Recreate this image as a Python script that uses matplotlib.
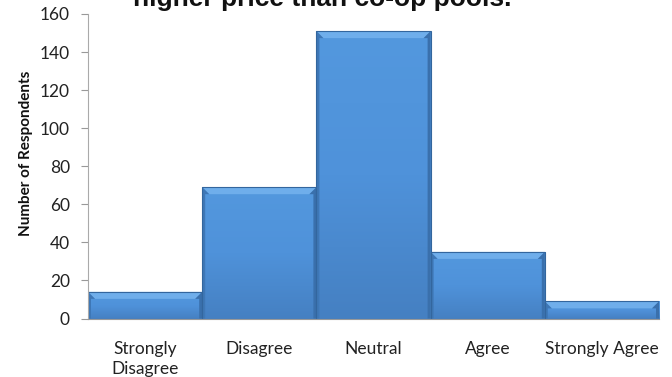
import matplotlib
matplotlib.use("Agg")
import matplotlib.pyplot as plt
from matplotlib.patches import Rectangle, Polygon
import numpy as np

categories = ["Strongly\nDisagree", "Disagree", "Neutral", "Agree", "Strongly Agree"]
respondents = [14, 69, 151, 35, 9]
y_ticks = [0, 20, 40, 60, 80, 100, 120, 140, 160]
title_text = "higher price than co-op pools."
y_label = "Number of Respondents"

W, H = 672, 377
fig = plt.figure(figsize=(W / 100, H / 100), dpi=100)
left, right, bottom, top = 88, 659, 318.5, 14
ax = fig.add_axes([left / W, 1 - bottom / H, (right - left) / W, (bottom - top) / H])

ax.set_xlim(-0.5, len(categories) - 0.5)
ax.set_ylim(0, 160)

# pixel -> data conversion factors
px_x = (len(categories)) / (right - left)
px_y = 160 / (bottom - top)

face = "#4C8ED6"
edge = "#33669E"
grad = np.linspace(0, 1, 256).reshape(-1, 1)
cmap = matplotlib.colors.LinearSegmentedColormap.from_list(
    "barfill", ["#4580C2", "#4F92DA", "#5398DE"])

for i, v in enumerate(respondents):
    x0, x1 = i - 0.5, i + 0.5
    rect = Rectangle((x0, 0), 1.0, v, facecolor=face, edgecolor="none", zorder=2)
    ax.add_patch(rect)
    im = ax.imshow(grad, extent=(x0, x1, 0, v), origin="lower", cmap=cmap,
                   aspect="auto", zorder=2.1)
    im.set_clip_path(rect)
    b = 7  # bevel size in pixels
    bx, by = b * px_x, b * px_y
    sx = 3 * px_x
    # top bevel (lighter)
    ax.add_patch(Polygon([(x0, v), (x1, v), (x1 - bx, v - by), (x0 + bx, v - by)],
                         closed=True, facecolor="#6FAEEB", edgecolor="none", zorder=2.2))
    # side bevels (darker)
    ax.add_patch(Polygon([(x0, v), (x0 + bx, v - by), (x0 + sx, v - by), (x0 + sx, 0), (x0, 0)],
                         closed=True, facecolor="#3E77B6", edgecolor="none", zorder=2.2))
    ax.add_patch(Polygon([(x1, v), (x1 - bx, v - by), (x1 - sx, v - by), (x1 - sx, 0), (x1, 0)],
                         closed=True, facecolor="#3A70AC", edgecolor="none", zorder=2.2))
    ax.add_patch(Rectangle((x0, 0), 1.0, v, facecolor="none", edgecolor=edge,
                           linewidth=0.8, zorder=2.3))

ax.set_yticks(y_ticks)
ax.set_yticklabels([str(t) for t in y_ticks], fontsize=12.5, family="Lato", color="#222222")
ax.set_xticks(range(len(categories)))
ax.set_xticklabels(categories, fontsize=12.5, family="Lato", color="#222222", linespacing=1.3)
ax.tick_params(axis="x", length=0, pad=16)
ax.tick_params(axis="y", length=5, color="#999999", width=0.8, pad=8)

for s in ["top", "right"]:
    ax.spines[s].set_visible(False)
ax.spines["left"].set_color("#AAAAAA")
ax.spines["bottom"].set_color("#999999")
ax.spines["left"].set_linewidth(0.8)
ax.spines["bottom"].set_linewidth(0.8)

fig.text(26 / W, 1 - 153 / H, y_label, rotation=90, ha="center", va="center",
         fontsize=11, fontweight="bold", family="Lato", color="#111111")
fig.text(322 / W, 1 - 6 / H, title_text, ha="center", va="baseline",
         fontsize=19, fontweight="bold", family="Liberation Sans", color="#111111")

fig.savefig("out.png", dpi=100)
